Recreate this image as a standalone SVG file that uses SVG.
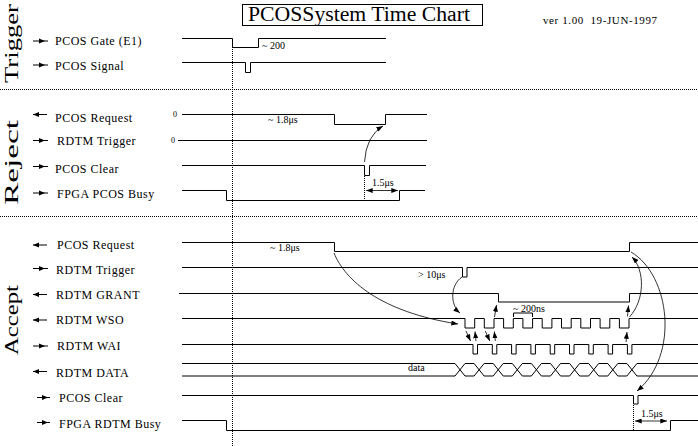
<svg xmlns="http://www.w3.org/2000/svg" width="698" height="446" viewBox="0 0 698 446">
<style>
text{font-family:"Liberation Serif","Times New Roman",serif;fill:#000}
.lbl{font-size:12px;letter-spacing:0.5px}
.ann{font-size:10px}
.sec{font-size:19px}
.w{fill:none;stroke:#000;stroke-width:1}
.dot{fill:none;stroke:#000;stroke-width:1;stroke-dasharray:1 1}
.con{fill:none;stroke:#000;stroke-width:0.8}
.ah{fill:#000}
</style>
<defs>
<marker id="ah" viewBox="0 0 8 6" refX="8" refY="3" markerWidth="7" markerHeight="5" orient="auto-start-reverse" markerUnits="userSpaceOnUse"><path d="M0,0 L8,3 L0,6 z" fill="#000"/></marker>
</defs>
<rect width="698" height="446" fill="#fff"/>

<g id="title">
<rect x="242.5" y="4.5" width="240" height="21" fill="none" stroke="#000"/>
<text x="248" y="21" font-size="20" textLength="222" lengthAdjust="spacingAndGlyphs">PCOSSystem Time Chart</text>
<text x="543" y="24" font-size="11" textLength="114" lengthAdjust="spacing" xml:space="preserve">ver 1.00  19-JUN-1997</text>
</g>

<g id="sections">
<text class="sec" transform="translate(18,83) rotate(-90)" textLength="79" lengthAdjust="spacingAndGlyphs">Trigger</text>
<text class="sec" transform="translate(18,205) rotate(-90)" textLength="85" lengthAdjust="spacingAndGlyphs">Reject</text>
<text class="sec" transform="translate(18,355) rotate(-90)" textLength="70" lengthAdjust="spacingAndGlyphs">Accept</text>
<line class="dot" x1="0" y1="89.5" x2="698" y2="89.5"/>
<line class="dot" x1="0" y1="216.5" x2="698" y2="216.5"/>
<line class="dot" x1="232.5" y1="47" x2="232.5" y2="446"/>
</g>

<!-- Trigger -->
<g id="trig-gate">
<line class="w" x1="33" y1="41" x2="48" y2="41"/><polygon class="ah" points="39,38.5 45,41 39,43.5"/>
<text class="lbl" x="55" y="45">PCOS Gate (E1)</text>
<path class="w" d="M182,38.5 H232.5 V47.5 H258.5 V38.5 H386"/>
<text class="ann" x="262" y="49">~ 200</text>
</g>
<g id="trig-signal">
<line class="w" x1="33" y1="65" x2="48" y2="65"/><polygon class="ah" points="39,62.5 45,65 39,67.5"/>
<text class="lbl" x="55" y="70">PCOS Signal</text>
<path class="w" d="M182,62.5 H245.5 V72.5 H250.5 V62.5 H386"/>
</g>

<!-- Reject -->
<g id="rej-request">
<line class="w" x1="33" y1="114.5" x2="47" y2="114.5"/><polygon class="ah" points="33,114.5 39,112 39,117"/>
<text class="lbl" x="55" y="121.5">PCOS Request</text>
<text x="173" y="117" font-size="8">0</text>
<path class="w" d="M182,114.5 H334.5 V124.5 H385.5 V114.5 H427"/>
<text class="ann" x="268" y="123">~ 1.8μs</text>
</g>
<g id="rej-trigger">
<line class="w" x1="33" y1="140.5" x2="48" y2="140.5"/><polygon class="ah" points="39,138 45,140.5 39,143"/>
<text class="lbl" x="57" y="145">RDTM Trigger</text>
<text x="171" y="143" font-size="8">0</text>
<path class="w" d="M178,140.5 H427"/>
</g>
<g id="rej-clear">
<line class="w" x1="33" y1="166.5" x2="48" y2="166.5"/><polygon class="ah" points="39,164 45,166.5 39,169"/>
<text class="lbl" x="55" y="172.5">PCOS Clear</text>
<path class="w" d="M182,165.5 H364.5 V175.5 H369.5 V165.5 H426"/>
</g>
<g id="rej-busy">
<line class="w" x1="33" y1="193" x2="48" y2="193"/><polygon class="ah" points="39,190.5 45,193 39,195.5"/>
<text class="lbl" x="57" y="198">FPGA PCOS Busy</text>
<path class="w" d="M182,190.5 H226.5 V200.5 H399.5 V190.5 H425"/>
<line class="dot" x1="364.5" y1="176" x2="364.5" y2="200"/>
<text class="ann" x="372" y="186">1.5μs</text>
</g>

<!-- Accept -->
<g id="acc-request">
<line class="w" x1="33" y1="245" x2="47" y2="245"/><polygon class="ah" points="33,245 39,242.5 39,247.5"/>
<text class="lbl" x="57" y="249">PCOS Request</text>
<path class="w" d="M182,242.5 H334.5 V251.5 H629.5 V242.5 H698"/>
<text class="ann" x="270" y="251">~ 1.8μs</text>
</g>
<g id="acc-trigger">
<line class="w" x1="33" y1="268.5" x2="48" y2="268.5"/><polygon class="ah" points="39,266 45,268.5 39,271"/>
<text class="lbl" x="56" y="274">RDTM Trigger</text>
<path class="w" d="M182,267.5 H462.5 V277 H467 V267.5 H698"/>
<text class="ann" x="418" y="278">&gt; 10μs</text>
</g>
<g id="acc-grant">
<line class="w" x1="33" y1="294.5" x2="47" y2="294.5"/><polygon class="ah" points="33,294.5 39,292 39,297"/>
<text class="lbl" x="56" y="299">RDTM GRANT</text>
<path class="w" d="M179,293.5 H498.5 V302 H629.5 V293.5 H698"/>
</g>
<g id="acc-wso">
<line class="w" x1="33" y1="320" x2="47" y2="320"/><polygon class="ah" points="33,320 39,317.5 39,322.5"/>
<text class="lbl" x="56" y="324">RDTM WSO</text>
<path class="w" d="M182,318.5 H465 V328 H474.7 V318.5 H484.3 V328 H494 V318.5 H503.6 V328 H513.3 V318.5 H522.9 V328 H532.6 V318.5 H542.2 V328 H551.9 V318.5 H561.5 V328 H571.2 V318.5 H580.8 V328 H590.5 V318.5 H600.1 V328 H609.8 V318.5 H619.4 V328 H629 V318.5 H698"/>
<text class="ann" x="513" y="311.5">~ 200ns</text>
<path class="w" d="M513.5,317 V313 H532.5 V317" stroke-width="0.8"/>
</g>
<g id="acc-wai">
<line class="w" x1="33" y1="346" x2="48" y2="346"/><polygon class="ah" points="39,343.5 45,346 39,348.5"/>
<text class="lbl" x="57" y="350">RDTM WAI</text>
<path class="w" d="M182,344.5 H473 V354 H477.5 V344.5 H492.3 V354 H496.8 V344.5 H511.6 V354 H516.1 V344.5 H530.9 V354 H535.4 V344.5 H550.2 V354 H554.7 V344.5 H569.5 V354 H574 V344.5 H588.8 V354 H593.3 V344.5 H608.1 V354 H612.6 V344.5 H627.4 V354 H631.9 V344.5 H698"/>
</g>
<g id="acc-data">
<line class="w" x1="33" y1="371.5" x2="47" y2="371.5"/><polygon class="ah" points="33,371.5 39,369 39,374"/>
<text class="lbl" x="56" y="376.5">RDTM DATA</text>
<polyline class="w" points="182,363.5 455,363.5 465,376 474.1,376 484.1,363.5 493.2,363.5 503.2,376 512.3,376 522.3,363.5 531.4,363.5 541.4,376 550.5,376 560.5,363.5 569.6,363.5 579.6,376 588.7,376 598.7,363.5 607.8,363.5 617.8,376 626.9,376 636.9,363.5 698,363.5"/>
<polyline class="w" points="182,376 455,376 465,363.5 474.1,363.5 484.1,376 493.2,376 503.2,363.5 512.3,363.5 522.3,376 531.4,376 541.4,363.5 550.5,363.5 560.5,376 569.6,376 579.6,363.5 588.7,363.5 598.7,376 607.8,376 617.8,363.5 626.9,363.5 636.9,376 698,376"/>
<text class="ann" x="408" y="371">data</text>
</g>
<g id="acc-clear">
<line class="w" x1="37" y1="397.5" x2="50" y2="397.5"/><polygon class="ah" points="42,395 48,397.5 42,400"/>
<text class="lbl" x="59" y="401.5">PCOS Clear</text>
<path class="w" d="M182,395.5 H633.5 V404 H638 V395.5 H698"/>
</g>
<g id="acc-busy">
<line class="w" x1="37" y1="422.5" x2="50" y2="422.5"/><polygon class="ah" points="42,420 48,422.5 42,425"/>
<text class="lbl" x="59" y="427.5">FPGA RDTM Busy</text>
<path class="w" d="M182,420.5 H226.5 V430.5 H670.5 V420.5 H698"/>
<line class="dot" x1="633.5" y1="405" x2="633.5" y2="430"/>
<text class="ann" x="641" y="417">1.5μs</text>
</g>

<g id="connectors">
<path class="con" d="M364.5,162 Q366,136 383,126" marker-end="url(#ah)"/>
<path class="con" d="M366,190.5 H398" marker-start="url(#ah)" marker-end="url(#ah)"/>
<path class="con" d="M334,253 C345,280 380,312 458,324" marker-end="url(#ah)"/>
<path class="con" d="M462,277 C450,285 450,305 460,313" marker-end="url(#ah)"/>
<path class="con" d="M466,331 L470.5,341" marker-end="url(#ah)"/>
<path class="con" d="M476,341 L475,331.5" marker-end="url(#ah)"/>
<path class="con" d="M485.3,331 L489.8,341" marker-end="url(#ah)"/>
<path class="con" d="M495.3,341 L494.3,331.5" marker-end="url(#ah)"/>
<path class="con" d="M494.5,317 L496.5,305" marker-end="url(#ah)"/>
<path class="con" d="M627.5,316.5 L628.5,305.5" marker-end="url(#ah)"/>
<path class="con" d="M626,342 L627,332" marker-end="url(#ah)"/>
<path class="con" d="M629.5,317 C645,300 645,270 632,257" marker-end="url(#ah)"/>
<path class="con" d="M631,252 C670,275 680,355 637,391" marker-end="url(#ah)"/>
<path class="con" d="M635,421 H667" marker-start="url(#ah)" marker-end="url(#ah)"/>
</g>
</svg>
